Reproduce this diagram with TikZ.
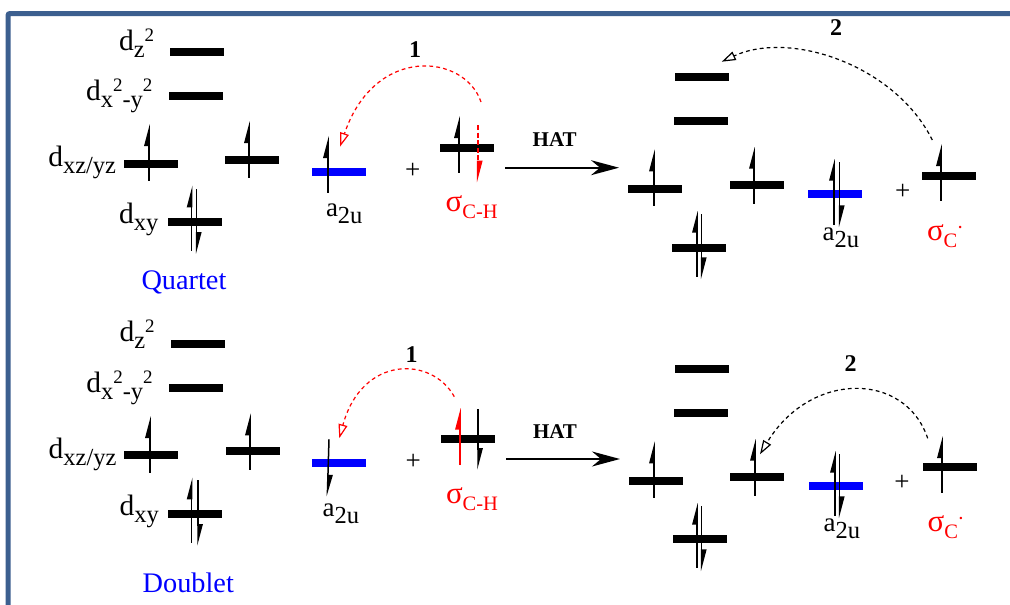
\documentclass[tikz,border=0pt]{standalone}
\usepackage{fontspec}
\setmainfont{Liberation Serif}
\usetikzlibrary{arrows.meta}
\definecolor{framec}{HTML}{3C5F8F}
\newcommand{\fs}[1]{\fontsize{#1}{#1}\selectfont}
\newcommand{\sbx}[1]{\raisebox{-7pt}{\fs{24.5}#1}}
\newcommand{\spx}[1]{\raisebox{9pt}{\fs{19}#1}}
\newcommand{\rsb}[1]{\raisebox{-7pt}{\fs{20.5}#1}}
\newcommand{\sg}{{\fs{31}σ}}
\newcommand{\rdot}{\raisebox{12pt}{\bfseries\fs{15}\kern1pt.}}
\tikzset{
  x=1pt,y=-1pt,
  level/.style={rectangle,fill=#1,minimum width=54pt,minimum height=8pt,inner sep=0pt,outer sep=0pt},
  level/.default=black,
  txt/.style={anchor=base west,inner sep=0pt,outer sep=0pt,font=\fs{29.5}},
  small/.style={anchor=base west,inner sep=0pt,outer sep=0pt,font=\fs{27}},
  redtxt/.style={small,text=red},
  state/.style={anchor=base west,inner sep=0pt,outer sep=0pt,font=\fs{28.3},text=blue},
  plus/.style={inner sep=0pt,font=\fs{27}},
  num/.style={anchor=base,inner sep=0pt,font=\bfseries\fs{24}},
  hat/.style={anchor=base,inner sep=0pt,font=\bfseries\fs{21}},
  spinline/.style={line width=1.5pt,-{Triangle[harpoon,length=19pt,width=9.5pt]}},
  react/.style={line width=1.6pt,-{Stealth[length=28pt,width=15pt,inset=9pt]}},
  transfer/.style={line width=1.2pt,dash pattern=on 3.8pt off 3.2pt,-{Triangle[open,length=14pt,width=9pt,line width=1.2pt]}},
}
\newcommand{\lev}[5][black]{\node[level=#1] (#2) at (#3,#4) {};}
\newcommand{\spin}[6][black]{%
  \coordinate (#2a) at (#3,#4);\coordinate (#2b) at (#5,#6);
  \draw[spinline,draw=#1,fill=#1] (#2a) -- (#2b);}
\begin{document}
\begin{tikzpicture}
\useasboundingbox (0,0) rectangle (1010,605);
\fill[white] (0,0) rectangle (1010,605);
\draw[framec,line width=5pt,rounded corners=2pt] (8,605) -- (8,13.5) -- (1010,13.5);

% ---- Quartet
\lev{qa}{197}{51.7}{}
\lev{qb}{196}{95.7}{}
\lev{qc}{151}{163.7}{}
\lev{qd}{252}{159.7}{}
\lev{qe}{195}{221.7}{}
\lev[blue]{qf}{339}{171.7}{}
\lev{qg}{467}{148}{}
\lev{qh}{702}{76.7}{}
\lev{qi}{701}{120.7}{}
\lev{qj}{655}{188.7}{}
\lev{qk}{757}{184.7}{}
\lev{ql}{699}{247.7}{}
\lev[blue]{qm}{835}{193.7}{}
\lev{qn}{949}{176}{}

\node[txt] (qt1) at (119,50) {d\sbx{z}\spx{2}};
\node[txt] (qt2) at (86,100.7) {d\sbx{x}\spx{2}\sbx{-y}\spx{2}};
\node[txt] (qt3) at (48.3,166.7) {d\sbx{xz/yz}};
\node[txt] (qt4) at (119,223.3) {d\sbx{xy}};
\node[state] (qt5) at (141.5,289.3) {Quartet};
\node[small] (qt6) at (326,216.7) {a\sbx{2u}};
\node[redtxt] (qt7) at (445.7,211.7) {\sg\rsb{C-H}};
\node[small] (qt8) at (822.7,240) {a\sbx{2u}};
\node[redtxt] (qt9) at (927,240) {\sg\rsb{C}\rdot};
\node[plus] (qp1) at (412.7,170.7) {+};
\node[plus] (qp2) at (902.7,191.7) {+};
\node[num] (qn1) at (415,57.3) {1};
\node[num] (qn2) at (836,35.7) {2};
\node[hat] (qhat) at (554.7,146.7) {HAT};

\spin{s1}{149}{180.7}{149}{124}
\spin{s2}{249}{177.7}{249}{121}
\spin{s3}{191.7}{250.7}{191.7}{185.3}
\spin{s4}{196.7}{189}{196.7}{254}
\spin{s5}{328}{192.7}{328}{136}
\spin{s6}{459}{172.7}{459}{116}
\coordinate (s7a) at (477.7,125);\coordinate (s7b) at (477.7,182.7);
\draw[line width=1.6pt,red,dash pattern=on 5pt off 2.5pt,-{Triangle[harpoon,length=19pt,width=9.5pt]}] (s7a) -- (s7b);
\spin{s8}{654}{205.7}{654}{149.3}
\spin{s9}{754}{203.7}{754}{146.7}
\spin{s10}{697}{276.7}{697}{210.7}
\spin{s11}{701.7}{214.3}{701.7}{279.3}
\spin{s12}{834}{225}{834}{158.7}
\spin{s13}{839.7}{162.3}{839.7}{227.3}
\spin{s14}{941}{200.7}{941}{144}

\coordinate (qh1) at (505,167.7);\coordinate (qh2) at (619,167.7);
\draw[react] (qh1) -- (qh2);
\coordinate (qc1a) at (481,102);\coordinate (qc1b) at (340,146.7);
\draw[transfer,red] (qc1a) .. controls (465,54) and (375,44) .. (qc1b);
\coordinate (qc2a) at (932.3,140);\coordinate (qc2b) at (721.7,61.7);
\draw[transfer,black] (qc2a) .. controls (895,65) and (790,30) .. (qc2b);

% ---- Doublet
\lev{da}{198}{343.7}{}
\lev{db}{196}{387.7}{}
\lev{dc}{151}{454.7}{}
\lev{dd}{253}{450.7}{}
\lev{de}{195}{513.7}{}
\lev[blue]{df}{339}{462.7}{}
\lev{dg}{468}{439}{}
\lev{dh}{702}{368.7}{}
\lev{di}{701}{412.7}{}
\lev{dj}{656}{480.7}{}
\lev{dk}{757}{476.7}{}
\lev{dl}{700}{538.7}{}
\lev[blue]{dm}{836}{485.7}{}
\lev{dn}{950}{466.7}{}

\node[txt] (dt1) at (119.5,341.7) {d\sbx{z}\spx{2}};
\node[txt] (dt2) at (86.3,392.3) {d\sbx{x}\spx{2}\sbx{-y}\spx{2}};
\node[txt] (dt3) at (48.7,458.3) {d\sbx{xz/yz}};
\node[txt] (dt4) at (119.5,515) {d\sbx{xy}};
\node[state] (dt5) at (142.7,592.7) {Doublet};
\node[small] (dt6) at (322.7,516.7) {a\sbx{2u}};
\node[redtxt] (dt7) at (446,503.7) {\sg\rsb{C-H}};
\node[small] (dt8) at (823.7,531.7) {a\sbx{2u}};
\node[redtxt] (dt9) at (927.7,531.7) {\sg\rsb{C}\rdot};
\node[plus] (dp1) at (413.3,462.3) {+};
\node[plus] (dp2) at (902,483.3) {+};
\node[num] (dn1) at (411.7,362.3) {1};
\node[num] (dn2) at (850.7,371.7) {2};
\node[hat] (dhat) at (555,438.3) {HAT};

\spin{t1}{150}{472.7}{150}{416}
\spin{t2}{250}{469.7}{250}{413.3}
\spin{t3}{191.7}{542.7}{191.7}{477.3}
\spin{t4}{198}{480.3}{198}{546}
\spin{t5}{329}{439.3}{327.3}{496.7}
\spin[red]{t6}{460}{465}{460}{407.7}
\spin{t7}{478}{409}{478}{470}
\spin{t8}{654}{497.7}{654}{441.3}
\spin{t9}{755}{495.7}{755}{438.7}
\spin{t10}{697}{567.7}{697}{502.7}
\spin{t11}{701.7}{506.3}{701.7}{571.3}
\spin{t12}{835}{515.7}{835}{450.7}
\spin{t13}{839.7}{454}{839.7}{518.3}
\spin{t14}{942}{492.7}{942}{436}

\coordinate (dh1) at (506,459);\coordinate (dh2) at (620,459);
\draw[react] (dh1) -- (dh2);
\coordinate (dc1a) at (454.3,396.7);\coordinate (dc1b) at (339.3,438.3);
\draw[transfer,red] (dc1a) .. controls (432,356) and (362,355) .. (dc1b);
\coordinate (dc2a) at (927.7,438.3);\coordinate (dc2b) at (760,454.3);
\draw[transfer,black] (dc2a) .. controls (905,371) and (810,371) .. (dc2b);
\end{tikzpicture}
\end{document}
